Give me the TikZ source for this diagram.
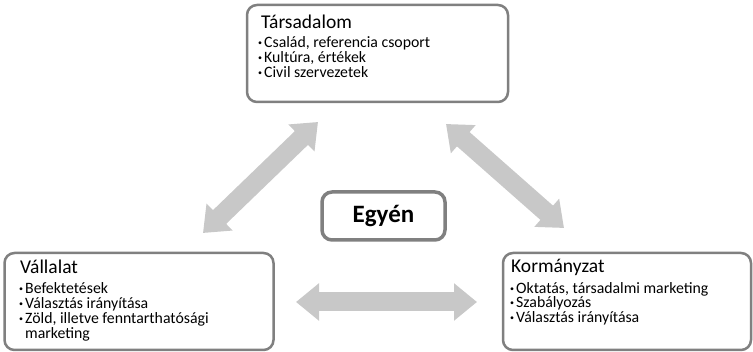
\documentclass[tikz,border=0pt]{standalone}
\usepackage{fontspec}
\setmainfont{Carlito}
\usetikzlibrary{arrows.meta}
\definecolor{boxgray}{RGB}{128,128,128}
\definecolor{arrgray}{RGB}{200,200,200}
\newcommand\mybul{\makebox[6pt][l]{\raisebox{0.3ex}{\fontsize{8}{8}\selectfont\textbullet}}}
\tikzset{
  box/.style={draw=boxgray, line width=2.5pt, rounded corners=10pt, fill=white, inner sep=0pt},
  ttl/.style={anchor=base west, inner sep=0pt, font=\fontsize{19.5}{22}\selectfont},
  itm/.style={anchor=base west, inner sep=0pt, font=\fontsize{15.8}{16}\selectfont},
  bigarrow/.style={draw=arrgray, line width=19pt, {Triangle[width=36pt,length=23pt]}-{Triangle[width=36pt,length=23pt]}}
}
\begin{document}
\begin{tikzpicture}[x=1pt,y=1pt]
\useasboundingbox[fill=white] (0,0) rectangle (753,352);
% boxes
\node[box, minimum width=261pt, minimum height=97pt] (tars) at (377.5,298.5) {};
\node[box, minimum width=269pt, minimum height=97pt] (vall) at (139,50.5) {};
\node[box, minimum width=248pt, minimum height=97pt] (korm) at (627,50.5) {};
\node[box, line width=3.5pt, minimum width=123pt, minimum height=48pt,
      font=\fontsize{25}{28}\selectfont\bfseries] (egy) at (383.5,136) {Egyén};
% Társadalom
\node[ttl] (t0) at (261,323.7) {Társadalom};
\node[itm] (t1) at (258,304.5) {\mybul Család, referencia csoport};
\node[itm] (t2) at (258,289.3) {\mybul Kultúra, értékek};
\node[itm] (t3) at (258,274.2) {\mybul Civil szervezetek};
% Vállalat
\node[ttl] (v0) at (20,78) {Vállalat};
\node[itm] (v1) at (19,58) {\mybul Befektetések};
\node[itm] (v2) at (19,43) {\mybul Választás irányítása};
\node[itm] (v3) at (19,28) {\mybul Zöld, illetve fenntarthatósági};
\node[itm] (v4) at (25,13.5) {marketing};
% Kormányzat
\node[ttl] (k0) at (511,79) {Kormányzat};
\node[itm] (k1) at (510,58.5) {\mybul Oktatás, társadalmi marketing};
\node[itm] (k2) at (510,44) {\mybul Szabályozás};
\node[itm] (k3) at (510,29.5) {\mybul Választás irányítása};
% arrows
\coordinate (a1) at (203,119);
\coordinate (a2) at (318,230);
\coordinate (b1) at (446,228);
\coordinate (b2) at (564,124);
\coordinate (c1) at (296,50);
\coordinate (c2) at (477,50);
\draw[bigarrow] (a1) -- (a2);
\draw[bigarrow] (b1) -- (b2);
\draw[bigarrow] (c1) -- (c2);
\end{tikzpicture}
\end{document}
